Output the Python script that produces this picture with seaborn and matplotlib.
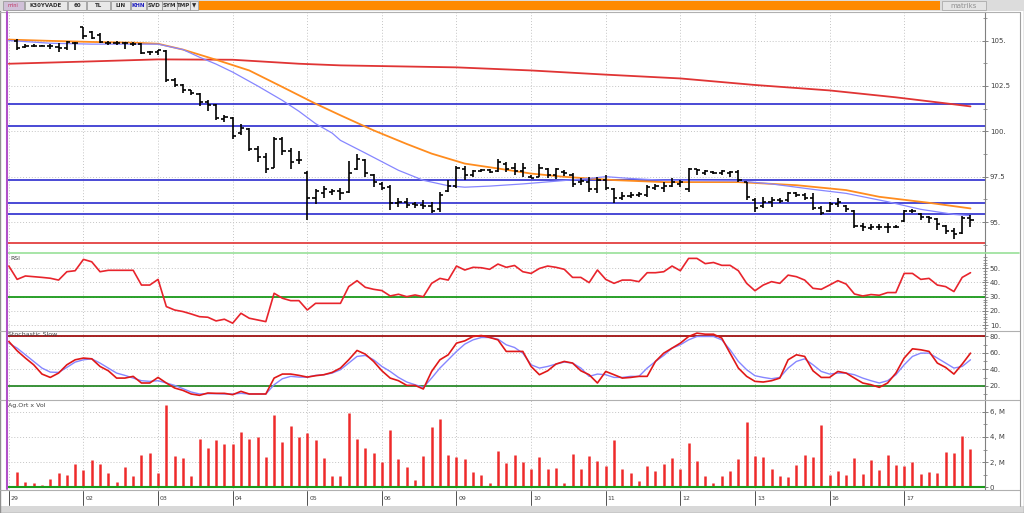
import numpy as np
import pandas as pd
import seaborn as sns
import matplotlib
matplotlib.use("Agg")
import matplotlib.pyplot as plt
from matplotlib.patches import Rectangle
from matplotlib.lines import Line2D
from matplotlib.transforms import blended_transform_factory as btf

# ---------------- data ----------------
day_labels = ["29", "02", "03", "04", "05", "06", "09", "10", "11", "12", "13", "16", "17"]
day_pos = [0, 9, 18, 27, 36, 45, 54, 63, 72, 81, 90, 99, 108]

opens = [105.0, 104.65, 104.7, 104.7, 104.7, 104.65, 104.6, 104.85,
         105.75, 105.45, 105.3, 104.85, 104.85, 104.85, 104.8, 104.8, 104.35,
         104.35, 104.4, 102.85, 102.55, 102.25, 102.05, 101.6, 101.45, 100.7,
         100.75, 99.9, 100.1, 99.0, 98.6, 98.0, 99.6, 98.9, 98.4,
         97.7, 96.3, 96.6, 96.65, 96.7, 96.65, 97.9, 98.4, 97.6,
         97.1, 96.95, 96.05, 96.1, 96.0, 95.95, 95.9, 95.7, 96.7,
         97.0, 97.9, 97.6, 97.8, 97.85, 97.8, 98.2, 98.0, 97.8,
         97.5, 97.5, 97.9, 97.6, 97.75, 97.6, 97.2, 97.2, 96.8,
         97.3, 96.8, 96.3, 96.45, 96.5, 96.5, 96.9, 96.9, 97.0,
         97.1, 96.8, 97.9, 97.7, 97.75, 97.7, 97.7, 97.75, 97.2,
         96.2, 95.9, 96.1, 96.2, 96.2, 96.6, 96.5, 96.3, 95.75,
         95.6, 96.0, 95.9, 95.6, 94.8, 94.65, 94.7, 94.7, 94.75,
         95.05, 95.6, 95.45, 95.3, 95.15, 94.8, 94.5, 94.4, 95.2]
highs = [105.09, 104.8, 104.78, 104.75, 104.82, 104.85, 105.0, 104.9,
         105.77, 105.5, 105.4, 104.95, 104.95, 104.9, 104.9, 104.85, 104.4,
         104.5, 104.46, 102.95, 102.6, 102.3, 102.1, 101.7, 101.5, 100.9,
         100.8, 100.4, 100.2, 99.2, 98.8, 99.7, 99.7, 99.1, 98.9,
         97.8, 96.8, 97.0, 96.8, 96.85, 98.37, 98.73, 98.45, 97.67,
         97.21, 97.03, 96.3, 96.3, 96.12, 96.2, 96.12, 96.67, 97.3,
         98.07, 98.07, 97.85, 97.94, 97.94, 98.5, 98.32, 98.23, 98.23,
         97.58, 98.2, 98.0, 98.0, 97.85, 97.71, 97.4, 97.49, 97.49,
         97.58, 96.85, 96.67, 96.67, 96.67, 97.03, 97.1, 97.21, 97.4,
         97.3, 98.0, 97.94, 97.85, 97.8, 97.85, 97.8, 97.85, 97.21,
         96.3, 96.4, 96.4, 96.3, 96.67, 96.67, 96.58, 96.58, 95.88,
         96.12, 96.3, 95.94, 95.66, 94.93, 94.9, 94.9, 94.93, 94.85,
         95.66, 95.7, 95.48, 95.35, 95.2, 94.84, 94.66, 95.33, 95.39]
lows = [104.49, 104.6, 104.62, 104.68, 104.55, 104.35, 104.5, 104.5,
        105.09, 105.1, 104.85, 104.75, 104.75, 104.55, 104.7, 104.26, 104.2,
        104.2, 102.7, 102.43, 102.1, 102.0, 101.4, 101.1, 100.6, 100.5,
        99.6, 99.8, 98.9, 98.3, 97.7, 98.0, 98.7, 97.9, 98.2,
        95.1, 96.0, 96.3, 96.5, 96.21, 96.58, 97.85, 97.5, 96.94,
        96.76, 95.66, 95.84, 95.8, 95.76, 95.7, 95.48, 95.57, 96.67,
        96.85, 97.34, 97.5, 97.76, 97.68, 97.76, 97.76, 97.58, 97.49,
        97.4, 97.5, 97.4, 97.35, 97.55, 96.94, 97.03, 96.67, 96.58,
        96.76, 96.06, 96.21, 96.3, 96.4, 96.4, 96.76, 96.67, 96.94,
        96.94, 96.67, 97.58, 97.58, 97.62, 97.58, 97.5, 97.21, 96.21,
        95.57, 95.76, 95.84, 96.03, 96.12, 96.4, 96.2, 95.66, 95.39,
        95.57, 95.84, 95.57, 94.66, 94.48, 94.56, 94.56, 94.38, 94.66,
        95.02, 95.48, 95.11, 94.93, 94.57, 94.35, 94.05, 94.35, 94.75]
closes = [104.6, 104.72, 104.7, 104.72, 104.68, 104.6, 104.9, 104.88,
          105.25, 105.15, 104.9, 104.85, 104.85, 104.85, 104.8, 104.3, 104.38,
          104.45, 102.8, 102.55, 102.3, 102.1, 101.6, 101.45, 100.75, 100.8,
          99.75, 100.2, 99.0, 98.6, 97.9, 99.6, 98.9, 98.3, 98.4,
          96.3, 96.7, 96.8, 96.7, 96.6, 97.7, 98.5, 97.7, 97.2,
          96.9, 96.06, 96.1, 95.95, 95.95, 95.9, 95.6, 96.5, 97.0,
          97.95, 97.6, 97.8, 97.85, 97.75, 98.3, 97.9, 97.8, 98.0,
          97.45, 98.0, 97.6, 97.9, 97.7, 97.1, 97.25, 96.8, 97.3,
          96.9, 96.3, 96.45, 96.5, 96.55, 96.95, 97.0, 97.0, 97.2,
          97.2, 97.9, 97.85, 97.8, 97.7, 97.8, 97.75, 97.3, 96.4,
          95.8, 96.1, 96.2, 96.15, 96.6, 96.5, 96.3, 95.8, 95.5,
          96.0, 96.1, 95.7, 94.8, 94.7, 94.75, 94.75, 94.75, 94.75,
          95.6, 95.6, 95.3, 95.2, 94.9, 94.5, 94.35, 95.2, 95.1]
volume_m = [1.22, 0.40, 0.34, 0.16, 0.69, 1.11, 1.01, 1.85, 1.40,
            2.20, 1.85, 1.14, 0.40, 1.59, 0.90, 2.54, 2.72, 1.11, 6.51,
            2.46, 2.33, 0.90, 3.86, 3.12, 3.78, 3.44, 3.44, 4.37, 3.86,
            3.97, 2.38, 5.71, 3.60, 4.84, 3.97, 4.31, 3.78, 2.33, 0.93,
            0.93, 5.87, 3.86, 3.12, 2.72, 2.01, 4.58, 2.25, 1.64, 0.58,
            2.51, 4.76, 5.45, 2.57, 2.43, 2.22, 1.24, 0.95, 0.34, 2.86,
            1.93, 2.53, 2.0, 1.47, 2.37, 1.47, 1.53, 0.32, 2.68, 1.47,
            2.47, 2.1, 1.68, 3.76, 1.47, 1.1, 0.47, 1.66, 1.32, 1.84,
            2.29, 1.47, 3.5, 2.08, 0.92, 0.34, 0.89, 1.29, 2.26, 5.16,
            2.47, 2.37, 1.42, 0.89, 0.84, 1.74, 2.58, 2.39, 4.95, 0.97,
            1.32, 0.95, 2.32, 1.05, 2.16, 1.37, 2.58, 1.79, 1.68, 2.0,
            1.05, 1.21, 1.1, 2.84, 2.74, 4.08, 3.03]

rsi = [51.6, 42.2, 44.6, 44.1, 43.6, 43.0, 41.7, 47.6, 48.3, 56.3,
       54.6, 47.6, 48.6, 48.6, 48.6, 48.6, 38.2, 38.2, 42.2, 23.0,
       20.6, 19.5, 17.8, 15.9, 15.5, 12.9, 14.1, 11.3, 18.3, 14.8,
       13.6, 12.4, 32.4, 28.9, 27.2, 27.2, 20.6, 25.3, 25.3, 25.3,
       25.3, 37.1, 41.3, 36.6, 35.2, 34.3, 30.5, 31.7, 30.0, 31.2,
       30.0, 39.4, 42.9, 41.7, 51.6, 48.8, 50.7, 50.4, 49.3, 53.0,
       50.7, 52.0, 47.6, 46.4, 49.9, 51.6, 50.7, 49.3, 43.6, 43.6,
       39.9, 48.8, 42.2, 39.4, 41.7, 41.7, 40.6, 46.9, 46.9, 47.6,
       51.6, 48.3, 57.0, 57.0, 53.3, 54.1, 52.1, 52.1, 48.3, 39.4,
       34.2, 38.2, 40.6, 39.4, 45.2, 44.1, 41.7, 35.9, 35.2, 38.2,
       41.3, 38.9, 31.9, 30.5, 31.5, 31.0, 32.9, 32.9, 46.4, 46.4,
       42.2, 42.9, 38.2, 37.1, 33.6, 43.6, 46.9]

stoch_k = [73.9, 62.6, 53.7, 45.5, 34.2, 30.1, 35.4, 45.5, 51.6, 53.7,
           52.8, 43.5, 38.2, 29.3, 29.3, 31.4, 23.3, 23.3, 30.1, 23.3,
           17.2, 14.3, 9.9, 8.3, 11.1, 10.7, 10.7, 9.1, 13.1, 9.9,
           9.9, 9.9, 29.3, 34.2, 34.2, 32.6, 30.5, 32.2, 33.4, 36.2,
           41.5, 51.6, 63.0, 58.5, 49.6, 38.2, 29.3, 26.1, 20.4, 20.4,
           16.0, 37.4, 51.6, 57.7, 71.9, 74.7, 80.0, 81.2, 78.8, 75.9,
           61.8, 61.8, 61.8, 43.5, 33.4, 38.2, 46.4, 49.6, 47.6, 38.2,
           33.4, 23.3, 37.4, 33.4, 29.3, 30.1, 31.4, 31.4, 49.6, 59.7,
           65.8, 71.9, 80.0, 84.1, 82.8, 82.8, 78.0, 59.7, 41.5, 31.4,
           25.3, 24.5, 26.1, 29.3, 51.6, 57.7, 55.7, 38.2, 30.1, 30.1,
           37.4, 35.4, 29.3, 23.3, 21.2, 18.0, 23.3, 35.4, 53.7, 65.0,
           63.8, 61.8, 47.6, 42.3, 34.2, 46.4, 59.7]
stoch_d = [71.9, 65.8, 57.7, 49.6, 41.5, 36.6, 36.2, 42.3, 48.8, 51.6,
           52.8, 47.6, 41.5, 35.4, 32.6, 29.3, 26.1, 25.3, 26.1, 23.3,
           20.4, 16.4, 12.3, 9.9, 10.3, 10.3, 9.9, 9.9, 10.7, 9.9,
           9.9, 9.9, 21.2, 28.5, 31.4, 30.5, 30.5, 32.6, 33.4, 35.4,
           39.5, 47.6, 55.7, 56.9, 51.6, 43.5, 37.4, 30.1, 24.5, 21.2,
           18.0, 29.3, 41.5, 51.6, 61.8, 70.7, 75.9, 78.8, 78.8, 76.8,
           69.9, 66.6, 59.7, 45.5, 41.5, 43.5, 46.4, 48.8, 47.6, 41.5,
           31.4, 34.2, 33.4, 30.1, 30.1, 31.4, 31.4, 41.5, 49.6, 56.9,
           65.8, 69.9, 75.9, 80.0, 80.0, 80.0, 75.9, 63.8, 49.6, 39.5,
           32.2, 30.1, 28.5, 30.1, 41.5, 49.6, 52.8, 45.5, 37.4, 34.2,
           35.4, 35.4, 33.4, 29.3, 26.1, 23.3, 26.1, 33.4, 45.5, 55.7,
           59.7, 59.7, 53.7, 47.6, 41.5, 43.5, 51.6]

ma_fast_x = [0, 5, 10, 15, 18, 21, 23, 25, 27, 30, 33, 35, 37, 39, 40, 43, 47, 50, 53, 55,
             58, 62, 66, 70, 72, 75, 79, 84, 88, 92, 97, 101, 106, 110, 114, 116]
ma_fast = [105.0, 104.85, 104.8, 104.8, 104.8, 104.5, 104.08, 103.7, 103.26, 102.5, 101.7, 101.1,
           100.42, 99.9, 99.5, 98.8, 97.85, 97.3, 97.0, 96.92, 96.98, 97.1, 97.25, 97.4, 97.5,
           97.4, 97.3, 97.28, 97.27, 97.1, 96.8, 96.58, 96.12, 95.7, 95.42, 95.35]
ma_slow_x = [0, 5, 10, 15, 18, 21, 25, 29, 33, 37, 40, 44, 48, 51, 55, 59, 63, 67, 73, 79,
             88, 95, 101, 105, 111, 116]
ma_slow = [105.05, 104.98, 104.92, 104.88, 104.82, 104.5, 103.94, 103.35, 102.44, 101.52,
           100.88, 100.05, 99.3, 98.77, 98.22, 97.95, 97.67, 97.49, 97.31, 97.2, 97.2, 97.03,
           96.76, 96.39, 96.06, 95.75]
ma_long_x = [0, 10, 18, 27, 35, 40, 54, 63, 72, 81, 90, 99, 107, 113, 116]
ma_long = [103.72, 103.85, 103.96, 103.94, 103.72, 103.63, 103.52, 103.35, 103.12, 102.91,
           102.55, 102.25, 101.87, 101.54, 101.37]

blue_levels = [101.48, 100.27, 97.31, 96.06, 95.42]
red_level = 93.83

# ---------------- figure ----------------
sns.set_style("white")
plt.rcParams['font.family'] = ['DejaVu Sans']

W, H = 1024, 513
fig = plt.figure(figsize=(W / 100, H / 100), dpi=100)
fig.patch.set_facecolor("white")

XL = (-0.1, 117.75)
LEFT, RIGHT = 8, 985


def add_ax(y0, y1):
    return fig.add_axes([LEFT / W, 1 - y1 / H, (RIGHT - LEFT) / W, (y1 - y0) / H])


def fy(y):
    return 1 - y / H


def setup(ax, ylim, majors, labels, minors):
    ax.set_facecolor("white")
    ax.set_xlim(*XL)
    ax.set_ylim(*ylim)
    ax.set_xticks(day_pos)
    ax.tick_params(axis="x", bottom=False, labelbottom=False)
    ax.yaxis.tick_right()
    ax.set_yticks(majors)
    ax.set_yticklabels(labels)
    ax.set_yticks(minors, minor=True)
    ax.tick_params(axis="y", which="major", direction="inout", length=5, width=0.6,
                   color="#707070", labelsize=5, labelcolor="#404040", pad=1)
    ax.tick_params(axis="y", which="minor", direction="inout", length=3, width=0.5,
                   color="#707070")
    ax.grid(True, which="major", ls=(0, (1, 2)), color="#c4c4c4", lw=0.7)
    for s in ["top", "left", "bottom"]:
        ax.spines[s].set_visible(False)
    ax.spines["right"].set_color("#808080")
    ax.spines["right"].set_linewidth(0.8)
    ax.set_xlabel("")
    ax.set_ylabel("")


ax_p = add_ax(12, 252)
ax_r = add_ax(253, 330)
ax_s = add_ax(331, 399)
ax_v = add_ax(400, 489)

# price panel
setup(ax_p, (93.35, 106.57), [95, 97.5, 100, 102.5, 105],
      ["95.", "97.5", "100.", "102.5", "105."], np.arange(93.75, 106.5, 1.25))
for v in blue_levels:
    ax_p.axhline(v, color="#3c3cd2", lw=1.3, zorder=2)
ax_p.axhline(red_level, color="#e03030", lw=1.2, zorder=2)
sns.lineplot(x=ma_long_x, y=ma_long, ax=ax_p, color="#e03434", lw=1.3, zorder=3)
sns.lineplot(x=ma_slow_x, y=ma_slow, ax=ax_p, color="#ff8c1e", lw=1.3, zorder=3)
sns.lineplot(x=ma_fast_x, y=ma_fast, ax=ax_p, color="#8686ff", lw=0.9, zorder=4)
bars_x = np.arange(1, len(opens) + 1)
ax_p.vlines(bars_x, lows, highs, color="black", lw=1.2, zorder=5)
ax_p.hlines(opens, bars_x - 0.38, bars_x, color="black", lw=1.2, zorder=5)
ax_p.hlines(closes, bars_x, bars_x + 0.38, color="black", lw=1.2, zorder=5)

# RSI
setup(ax_r, (6.5, 60.8), [10, 20, 30, 40, 50], ["10.", "20.", "30.", "40.", "50."],
      np.arange(8, 60, 2))
ax_r.axhline(30, color="#1a9a1a", lw=1.3, zorder=2)
sns.lineplot(x=np.arange(len(rsi)), y=rsi, ax=ax_r, color="#e8242c", lw=1.2, zorder=3)
fig.text(10 / W, fy(259), "RSI", fontsize=4.5, color="#404040", va="center")

# Stochastic
setup(ax_s, (3.8, 86.7), [20, 40, 60, 80], ["20.", "40.", "60.", "80."],
      np.arange(10, 90, 10))
ax_s.axhline(80, color="#a01010", lw=1.3, zorder=2)
ax_s.axhline(20, color="#2a8a2a", lw=1.3, zorder=2)
sns.lineplot(x=np.arange(len(stoch_d)), y=stoch_d, ax=ax_s, color="#8686ff", lw=1.0, zorder=3)
sns.lineplot(x=np.arange(len(stoch_k)), y=stoch_k, ax=ax_s, color="#e01818", lw=1.2, zorder=4)
fig.text(8 / W, fy(334), "Stochastic Slow", fontsize=4.5, color="#404040", va="center")

# Volume
setup(ax_v, (-0.13, 6.93), [0, 2, 4, 6], ["0", "2, M", "4, M", "6, M"], np.arange(0, 7, 1))
ax_v.vlines(np.arange(1, len(volume_m) + 1), 0, volume_m, color="#ee2a2a", lw=1.8, zorder=3)
ax_v.axhline(0, color="#1a9a1a", lw=1.5, zorder=4)
fig.text(8 / W, fy(405), "Ag.Ort x Vol", fontsize=4.5, color="#404040", va="center")

# date strip
tr = btf(ax_v.transData, fig.transFigure)
for p, lab in zip(day_pos, day_labels):
    fig.add_artist(Line2D([p, p], [fy(491), fy(505)], transform=tr, color="#505050", lw=0.7))
    fig.text(0, fy(499), lab, transform=tr, fontsize=4.5, color="#404040", va="center")
for i, (p, lab) in enumerate(zip(day_pos, day_labels)):
    pass
# shift labels to the right of ticks
for t in fig.texts[-len(day_labels):]:
    pass
fig.texts = fig.texts[:-len(day_labels)]
from matplotlib.transforms import ScaledTranslation
off = ScaledTranslation(2 / 100, 0, fig.dpi_scale_trans)
for p, lab in zip(day_pos, day_labels):
    fig.text(p, fy(499), lab, transform=tr + off, fontsize=4.5, color="#404040", va="center")

# separators and frame
def hline(y, x0, x1, color, lw):
    fig.add_artist(Line2D([x0 / W, x1 / W], [fy(y), fy(y)], color=color, lw=lw))

hline(253, 8, 1019, "#98e098", 1.2)
hline(330.5, 0, 1020, "#b0b0b0", 0.8)
hline(399.5, 0, 1020, "#b0b0b0", 0.8)
hline(489.5, 0, 1020, "#b0b0b0", 0.8)
hline(12, 0, 1020, "#b0b0b0", 0.8)
fig.add_artist(Line2D([7 / W, 7 / W], [fy(12), fy(489)], color="#b050c8", lw=1.5))
fig.add_artist(Line2D([1020 / W, 1020 / W], [fy(12), fy(506)], color="#a0a0a0", lw=0.8))
fig.add_artist(Rectangle((0, 0), 1, 7 / H, transform=fig.transFigure,
                         facecolor="#d8d8d8", edgecolor="none"))
fig.add_artist(Rectangle((0, 0), 1, 1, transform=fig.transFigure, fill=False,
                         edgecolor="#909090", lw=1.0))

# toolbar
fig.add_artist(Rectangle((0, fy(11)), 1, 11 / H, transform=fig.transFigure,
                         facecolor="#dcdcdc", edgecolor="none"))
fig.add_artist(Rectangle((199 / W, fy(10)), (940 - 199) / W, 9 / H, transform=fig.transFigure,
                         facecolor="#ff8a00", edgecolor="none"))
buttons = [("K30YVADE", 25, 67), ("60", 68, 86), ("TL", 87, 110), ("LIN", 111, 130),
           ("KHN", 131, 146), ("SVD", 147, 162), ("SYM", 162, 177), ("TMP", 177, 190),
           ("\u25bc", 190, 198)]
for lab, x0, x1 in buttons:
    fig.add_artist(Rectangle((x0 / W, fy(10)), (x1 - x0) / W, 9 / H, transform=fig.transFigure,
                             facecolor="#e8e8e8", edgecolor="#909090", lw=0.5))
    fig.text((x0 + x1) / 2 / W, fy(5.5), lab, fontsize=4, ha="center", va="center",
             color="#2020c0" if lab == "KHN" else "#303030", fontweight="bold")
fig.add_artist(Rectangle((3 / W, fy(10)), 21 / W, 9 / H, transform=fig.transFigure,
                         facecolor="#d0c0d8", edgecolor="#909090", lw=0.5))
fig.text(13 / W, fy(5.5), "mini", fontsize=3.5, ha="center", va="center", color="#c03060")
fig.add_artist(Rectangle((942 / W, fy(10)), 44 / W, 9 / H, transform=fig.transFigure,
                         facecolor="#e4e4e4", edgecolor="#a0a0a0", lw=0.5))
fig.text(964 / W, fy(5.5), "matriks", fontsize=5, ha="center", va="center", color="#909090")

fig.savefig("out.png", dpi=100, facecolor=fig.get_facecolor())
